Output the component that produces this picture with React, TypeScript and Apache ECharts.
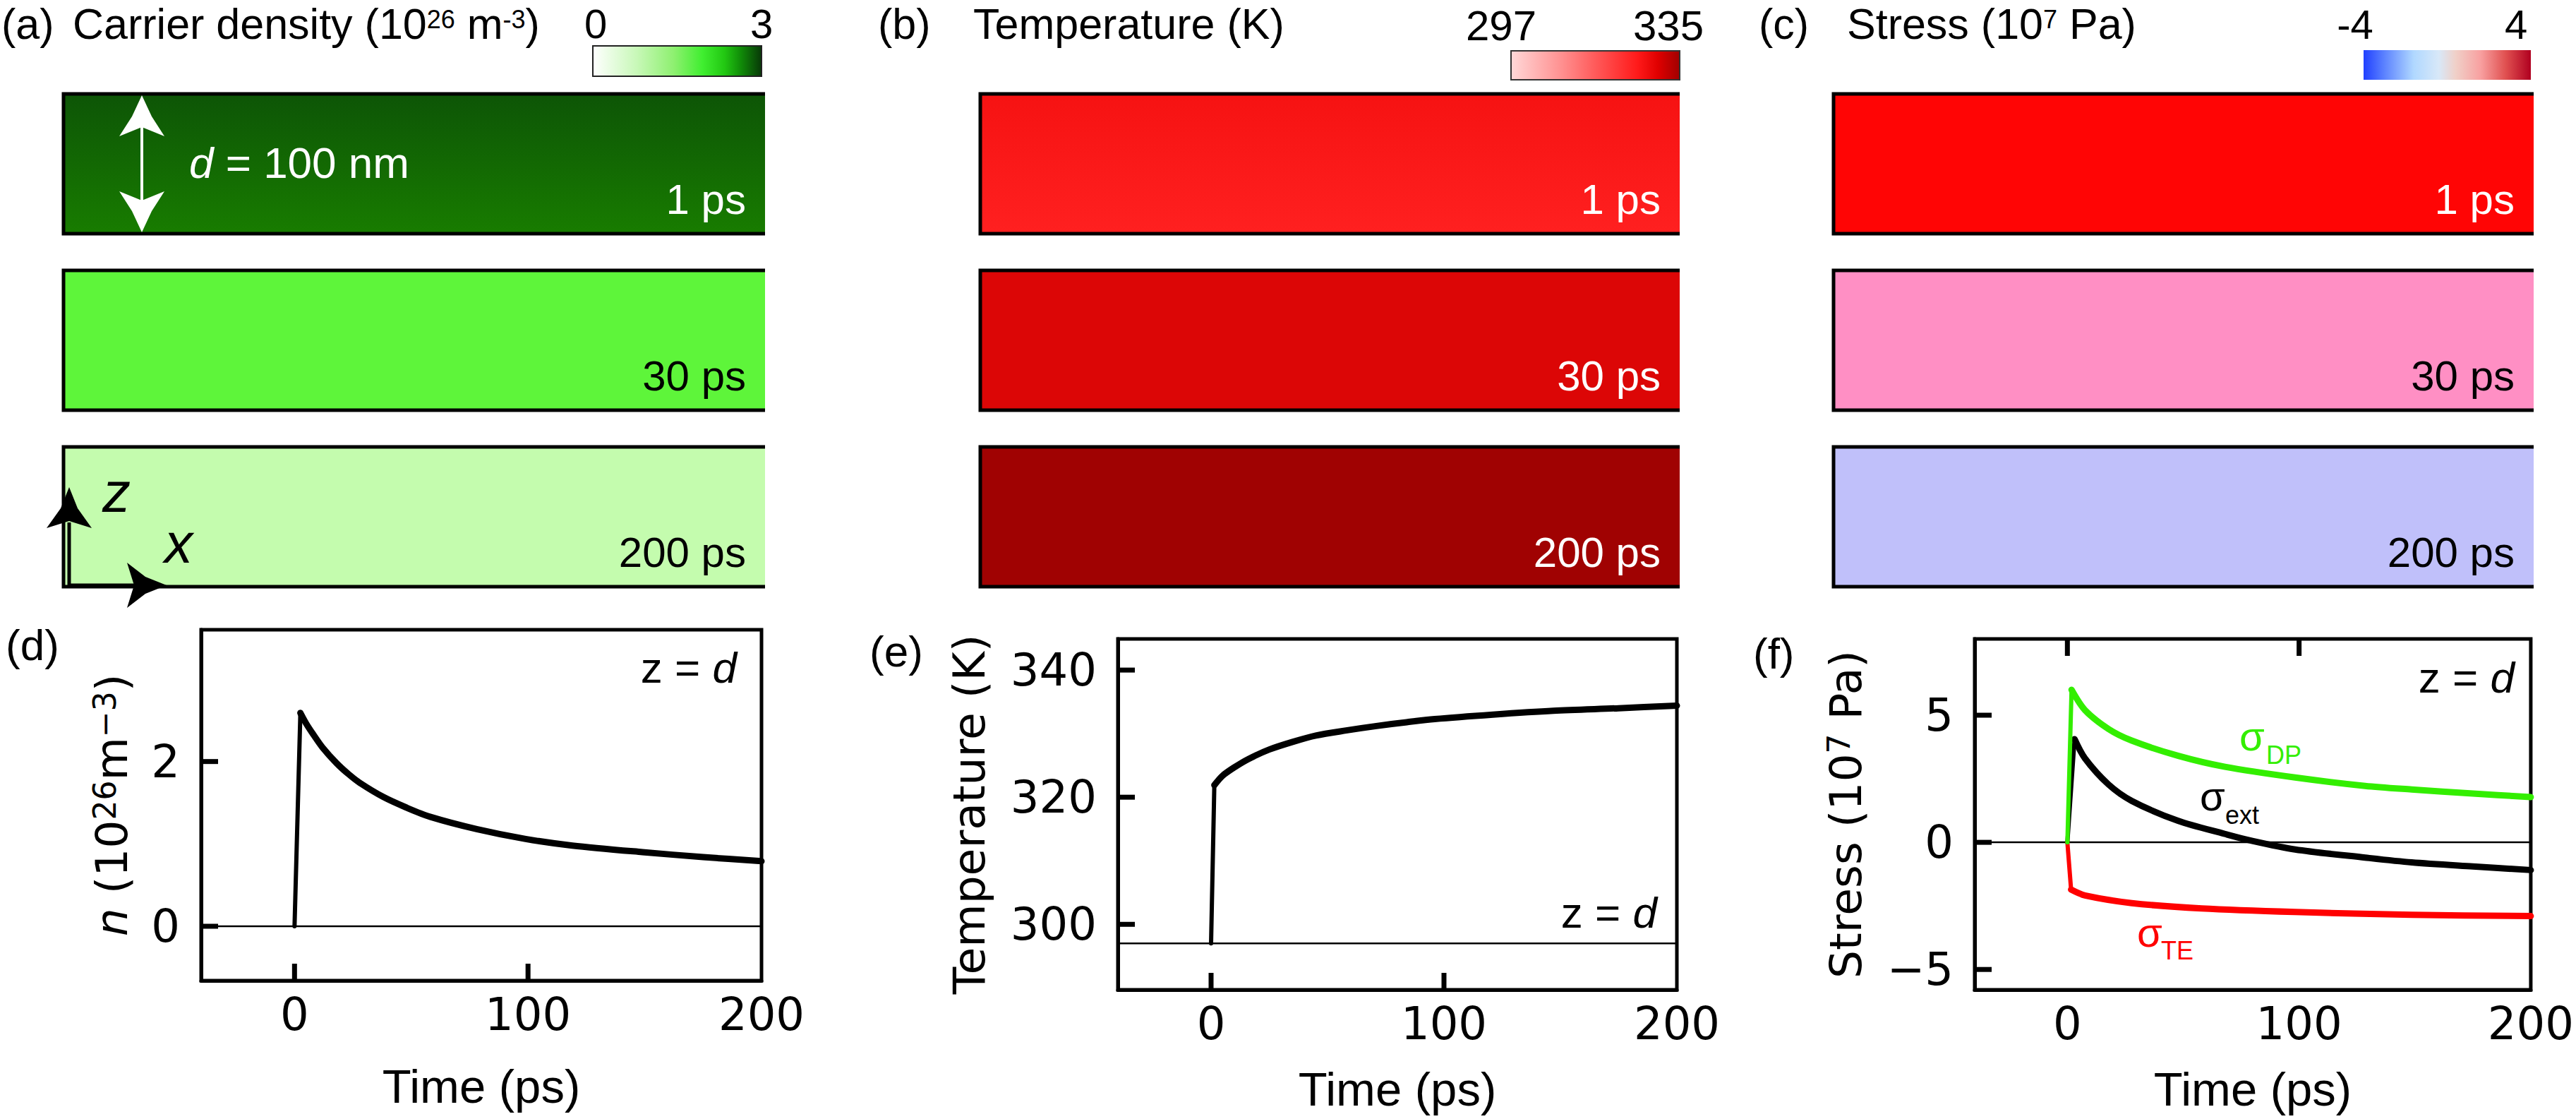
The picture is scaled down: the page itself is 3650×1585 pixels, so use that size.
import React, { useEffect, useRef } from 'react';
import * as echarts from 'echarts';

// ---------------- data ----------------
const snapshotLabels = ['1 ps', '30 ps', '200 ps'];
const slabWidth = [1, 1, 1];

const timeRange = [-40, 200];
const timeTickLabels = [0, 100, 200];
const timeTickMarks = [0, 100];

// (d) carrier density at z = d
const nRange = [-0.66, 3.6];
const nTicks = [0, 2];
const nBaseline = 0;
const nRiseTime = [0, 2.5];
const nRiseValue = [0, 2.59];
const nTime = [2.5, 5, 8, 12, 18, 23, 28, 38, 48, 58, 78, 99, 119, 149, 175, 200];
const nValue = [2.59, 2.46, 2.33, 2.17, 1.98, 1.85, 1.74, 1.57, 1.44, 1.33, 1.18, 1.06, 0.98, 0.9, 0.84, 0.79];

// (e) temperature at z = d
const tempRange = [289.7, 344.9];
const tempTicks = [300, 320, 340];
const tempBaseline = 297;
const tempRiseTime = [0, 1.4];
const tempRiseValue = [297, 321.9];
const tempTime = [1.4, 5, 10, 16, 25, 35, 45, 58, 71, 84, 96, 121, 147, 175, 200];
const tempValue = [321.9, 323.4, 324.7, 326.0, 327.5, 328.7, 329.7, 330.5, 331.2, 331.8, 332.3, 333.0, 333.6, 334.0, 334.4];

// (f) stress at z = d
const stressRange = [-5.8, 8.0];
const stressTicks = [-5, 0, 5];
const stressBaseline = 0;
const dpRiseTime = [0, 1.8];
const dpRiseValue = [0, 6.0];
const dpTime = [1.8, 7.6, 17.7, 27.8, 47.9, 68, 98.3, 128.5, 148.6, 175, 200];
const dpValue = [6.0, 5.2, 4.46, 4.0, 3.4, 2.97, 2.55, 2.22, 2.08, 1.92, 1.78];
const extRiseTime = [0, 3.1];
const extRiseValue = [0, 4.06];
const extTime = [3.1, 7.6, 17.7, 27.8, 47.9, 68, 78.2, 98.3, 128.5, 148.6, 175, 200];
const extValue = [4.06, 3.3, 2.28, 1.63, 0.84, 0.33, 0.09, -0.28, -0.6, -0.79, -0.95, -1.09];
const teRiseTime = [0, 1.6];
const teRiseValue = [0, -1.86];
const teTime = [1.6, 7.6, 27.8, 58, 98.3, 148.6, 200];
const teValue = [-1.86, -2.09, -2.39, -2.6, -2.74, -2.85, -2.9];

// colour-bar end labels
const densityScale = ['0', '3'];
const temperatureScale = ['297', '335'];
const stressScale = ['-4', '4'];

// ---------------- styles ----------------
const FS = "'Liberation Sans', Arial, sans-serif";
const DJ = "'DejaVu Sans', sans-serif";
const GREEN = '#33ee00';
const RED = '#ff0000';
const TICK_LEN = 24;
const TICK_W = 7;

const vgrad = (a: string, b: string) =>
  new echarts.graphic.LinearGradient(0, 0, 0, 1, [
    { offset: 0, color: a },
    { offset: 1, color: b },
  ]);
const hgrad = (stops: [number, string][]) => ({
  type: 'linear', x: 0, y: 0, x2: 1, y2: 0,
  colorStops: stops.map(([offset, color]) => ({ offset, color })),
});

const slabColors: any[][] = [
  [vgrad('#0d5506', '#187c00'), '#5ef53a', '#c4fcae'],
  [vgrad('#f61212', '#ff2020'), '#dc0606', '#a00202'],
  ['#ff0505', '#ff8fc4', '#c0c0fa'],
];
const slabLabelColors = [
  ['#ffffff', '#000000', '#000000'],
  ['#ffffff', '#ffffff', '#ffffff'],
  ['#ffffff', '#000000', '#000000'],
];

const topGrids = [
  { left: 90, top: 107, width: 994, height: 750 },
  { left: 1389, top: 107, width: 991, height: 750 },
  { left: 2598, top: 107, width: 992, height: 750 },
];
const botGrids = [
  { left: 285, top: 892, width: 794, height: 497 },
  { left: 1584, top: 905, width: 792, height: 497 },
  { left: 2798, top: 905, width: 792, height: 497 },
];

const pts = (xs: number[], ys: number[]) => xs.map((x, i) => [x, ys[i]]);
const fmtNum = (v: number) => (v < 0 ? '\u2212' + String(-v) : String(v));

function txt(x: number, y: number, text: string, o: any = {}) {
  return {
    type: 'text', x, y, z: 100, silent: true,
    style: {
      text,
      fill: o.fill || '#000',
      fontSize: o.fontSize || 60,
      fontFamily: o.fontFamily || FS,
      fontStyle: o.fontStyle || 'normal',
      align: o.align || 'left',
      verticalAlign: 'middle',
      lineHeight: o.lineHeight || 56,
      rich: o.rich,
    },
  };
}

function richMain(fontSize: number, family: string, color: string, lh: number) {
  return { fontSize, fontFamily: family, fill: color, color, lineHeight: lh };
}

function App() {
  const ref = useRef<HTMLDivElement>(null);
  useEffect(() => {
    const chart = echarts.init(ref.current!, null, { renderer: 'svg' });

    const titleRich = {
      m: richMain(61, FS, '#000', 50),
      s: { fontSize: 36, fontFamily: FS, fill: '#000', color: '#000', lineHeight: 32, verticalAlign: 'top' },
    };

    const xAxes: any[] = [];
    const yAxes: any[] = [];
    topGrids.forEach((g, i) => {
      xAxes.push({ type: 'value', gridIndex: i, min: 0, max: 1, show: false });
      yAxes.push({ type: 'category', gridIndex: i, data: snapshotLabels, inverse: true, show: false });
    });

    const frameLine = { show: true, onZero: false, lineStyle: { color: '#000', width: 5 } };
    botGrids.forEach((g, k) => {
      const gi = 3 + k;
      xAxes.push({
        type: 'value', gridIndex: gi, position: 'bottom', min: timeRange[0], max: timeRange[1],
        axisLine: frameLine, splitLine: { show: false },
        axisTick: { show: false },
        axisLabel: { show: true, customValues: timeTickLabels, margin: 16, fontSize: 64, fontFamily: DJ, color: '#000' },
        name: 'Time (ps)', nameLocation: 'middle', nameGap: k === 0 ? 119 : 110,
        nameTextStyle: { fontSize: 67, fontFamily: FS, color: '#000', lineHeight: 60 },
      });
    });

    const yNameRich = {
      m: richMain(63, DJ, '#000', 64),
      i: { fontSize: 63, fontFamily: DJ, fontStyle: 'italic', color: '#000', lineHeight: 64 },
      s: { fontSize: 44, fontFamily: DJ, color: '#000', lineHeight: 44, verticalAlign: 'top' },
    };
    const yDefs = [
      { range: nRange, ticks: nTicks, name: '{i|n}{m| (10}{s|26}{m|m}{s|\u22123}{m|)}', gap: 95 },
      { range: tempRange, ticks: tempTicks, name: '{m|Temperature (K)}', gap: 179 },
      { range: stressRange, ticks: stressTicks, name: '{m|Stress (10}{s|7}{m| Pa)}', gap: 151 },
    ];
    yDefs.forEach((d, k) => {
      yAxes.push({
        type: 'value', gridIndex: 3 + k, position: 'left', min: d.range[0], max: d.range[1],
        axisLine: frameLine, splitLine: { show: false },
        axisTick: { show: false },
        axisLabel: { show: true, customValues: d.ticks, margin: 30, fontSize: 64, fontFamily: DJ, color: '#000', formatter: fmtNum },
        name: d.name, nameLocation: 'middle', nameRotate: 90, nameGap: d.gap,
        nameTextStyle: { fontSize: 63, fontFamily: DJ, color: '#000', rich: yNameRich },
      });
    });

    const series: any[] = [];
    topGrids.forEach((g, i) => {
      series.push({
        type: 'custom', xAxisIndex: i, yAxisIndex: i, silent: true,
        data: slabWidth.map((v, k) => [v, k]),
        encode: { x: 0, y: 1 },
        renderItem: (params: any, api: any) => {
          const k = params.dataIndex;
          const p0 = api.coord([0, k]);
          const p1 = api.coord([api.value(0), k]);
          const h = api.size([0, 1])[1] * 0.792;
          const top = p0[1] - h / 2;
          const bottom = p0[1] + h / 2;
          return {
            type: 'group',
            children: [
              { type: 'rect', shape: { x: p0[0], y: top, width: p1[0] - p0[0], height: h }, style: { fill: slabColors[i][k] } },
              {
                type: 'polyline',
                shape: { points: [[p1[0], top], [p0[0], top], [p0[0], bottom], [p1[0], bottom]] },
                style: { stroke: '#000', lineWidth: 5, fill: null },
              },
              {
                type: 'text', x: p1[0] - 27, y: bottom - 19,
                style: {
                  text: snapshotLabels[k], fill: slabLabelColors[i][k], fontSize: 60, fontFamily: FS,
                  align: 'right', verticalAlign: 'bottom',
                },
              },
            ],
          };
        },
      });
    });

    const line = (xi: number, yi: number, data: number[][], color: string, width: number, smooth = false) => ({
      type: 'line', xAxisIndex: xi, yAxisIndex: yi, data, symbol: 'none', silent: true,
      smooth: smooth ? 0.3 : false,
      lineStyle: { color, width, cap: 'round', join: 'round' },
    });

    // (d)
    series.push(line(3, 3, [[timeRange[0], nBaseline], [timeRange[1], nBaseline]], '#000', 2.5));
    series.push(line(3, 3, pts(nRiseTime, nRiseValue), '#000', 6));
    series.push(line(3, 3, pts(nTime, nValue), '#000', 9, true));
    // (e)
    series.push(line(4, 4, [[timeRange[0], tempBaseline], [timeRange[1], tempBaseline]], '#000', 2.5));
    series.push(line(4, 4, pts(tempRiseTime, tempRiseValue), '#000', 6));
    series.push(line(4, 4, pts(tempTime, tempValue), '#000', 9, true));
    // (f)
    series.push(line(5, 5, [[timeRange[0], stressBaseline], [timeRange[1], stressBaseline]], '#000', 2.5));
    series.push(line(5, 5, pts(extRiseTime, extRiseValue), '#000', 6));
    series.push(line(5, 5, pts(extTime, extValue), '#000', 9, true));
    series.push(line(5, 5, pts(teRiseTime, teRiseValue), RED, 6));
    series.push(line(5, 5, pts(teTime, teValue), RED, 9, true));
    series.push(line(5, 5, pts(dpRiseTime, dpRiseValue), GREEN, 6));
    series.push(line(5, 5, pts(dpTime, dpValue), GREEN, 9, true));

    const white = '#ffffff';
    const graphic: any[] = [
      // titles
      txt(2, 34, '(a)', { fontSize: 61, lineHeight: 50 }),
      txt(103, 34, '{m|Carrier density (10}{s|26}{m| m}{s|-3}{m|)}', { rich: titleRich, lineHeight: 50 }),
      txt(1244, 34, '(b)', { fontSize: 61, lineHeight: 50 }),
      txt(1379, 34, 'Temperature (K)', { fontSize: 61, lineHeight: 50 }),
      txt(2492, 34, '(c)', { fontSize: 61, lineHeight: 50 }),
      txt(2617, 34, '{m|Stress (10}{s|7}{m| Pa)}', { rich: titleRich, lineHeight: 50 }),
      // colour bars
      {
        type: 'rect', z: 100, silent: true, shape: { x: 840, y: 65, width: 239, height: 43 },
        style: {
          fill: hgrad([[0, '#ffffff'], [0.26, '#c8f8b8'], [0.48, '#8ef070'], [0.65, '#40ee30'], [0.78, '#22c812'], [0.88, '#108a08'], [1, '#083808']]),
          stroke: '#222', lineWidth: 2,
        },
      },
      txt(844, 33, densityScale[0], { align: 'center', fontSize: 58, lineHeight: 44 }),
      txt(1079, 33, densityScale[1], { align: 'center', fontSize: 58, lineHeight: 44 }),
      {
        type: 'rect', z: 100, silent: true, shape: { x: 2141, y: 72, width: 239, height: 41 },
        style: {
          fill: hgrad([[0, '#ffd8d8'], [0.3, '#ff9090'], [0.5, '#ff5a5a'], [0.75, '#ff1a1a'], [0.87, '#e00000'], [1, '#a00000']]),
          stroke: '#333', lineWidth: 2,
        },
      },
      txt(2127, 36, temperatureScale[0], { align: 'center', fontSize: 60, lineHeight: 44 }),
      txt(2364, 36, temperatureScale[1], { align: 'center', fontSize: 60, lineHeight: 44 }),
      {
        type: 'rect', z: 100, silent: true, shape: { x: 3349, y: 71, width: 237, height: 42 },
        style: {
          fill: hgrad([[0, '#2040ff'], [0.12, '#5a80ff'], [0.3, '#b0d8ff'], [0.45, '#d8e8f8'], [0.55, '#f0d0c8'], [0.7, '#f8a0a0'], [0.85, '#e05050'], [1, '#b00020']]),
        },
      },
      txt(3337, 34, stressScale[0], { align: 'center', fontSize: 58, lineHeight: 44 }),
      txt(3565, 34, stressScale[1], { align: 'center', fontSize: 58, lineHeight: 44 }),
      // double arrow d = 100 nm
      { type: 'line', z: 100, silent: true, shape: { x1: 201, y1: 175, x2: 201, y2: 290 }, style: { stroke: white, lineWidth: 4 } },
      { type: 'polygon', z: 100, silent: true, shape: { points: [[201, 135], [215, 165], [233, 193], [201, 180], [169, 193], [187, 165]] }, style: { fill: white } },
      { type: 'polygon', z: 100, silent: true, shape: { points: [[201, 329], [215, 299], [233, 271], [201, 284], [169, 271], [187, 299]] }, style: { fill: white } },
      txt(268, 230, '{i|d}{m| = 100 nm}', {
        fill: white,
        rich: {
          i: { fontSize: 62, fontFamily: FS, fontStyle: 'italic', fill: white, color: white, lineHeight: 64 },
          m: richMain(62, FS, white, 64),
        },
      }),
      // axis arrows z / x
      { type: 'polyline', z: 100, silent: true, shape: { points: [[98, 740], [98, 829], [190, 829]] }, style: { stroke: '#000', lineWidth: 5, fill: null } },
      { type: 'polygon', z: 100, silent: true, shape: { points: [[98, 690], [110, 720], [130, 748], [98, 738], [66, 748], [86, 720]] }, style: { fill: '#000' } },
      { type: 'polygon', z: 100, silent: true, shape: { points: [[236, 829], [206, 841], [180, 861], [190, 829], [180, 797], [206, 817]] }, style: { fill: '#000' } },
      txt(145, 697, 'z', { fontSize: 80, fontStyle: 'italic', lineHeight: 80 }),
      txt(233, 769, 'x', { fontSize: 80, fontStyle: 'italic', lineHeight: 80 }),
      // bottom panel letters
      txt(8, 913, '(d)', { fontSize: 62 }),
      txt(1232, 922, '(e)', { fontSize: 62 }),
      txt(2484, 925, '(f)', { fontSize: 62 }),
    ];
    const zdRich = {
      m: richMain(62, FS, '#000', 64),
      i: { fontSize: 62, fontFamily: FS, fontStyle: 'italic', fill: '#000', color: '#000', lineHeight: 64 },
    };
    graphic.push(txt(1044, 945, '{m|z = }{i|d}', { align: 'right', rich: zdRich }));
    graphic.push(txt(2348, 1292, '{m|z = }{i|d}', { align: 'right', rich: zdRich }));
    graphic.push(txt(3563, 959, '{m|z = }{i|d}', { align: 'right', rich: zdRich }));
    // sigma labels
    graphic.push(txt(3173, 1042, '\u03c3', { fontSize: 58, fill: GREEN }));
    graphic.push(txt(3211, 1069, 'DP', { fontSize: 36, fill: GREEN, lineHeight: 40 }));
    graphic.push(txt(3117, 1127, '\u03c3', { fontSize: 58 }));
    graphic.push(txt(3153, 1154, 'ext', { fontSize: 36, lineHeight: 40 }));
    graphic.push(txt(3028, 1320, '\u03c3', { fontSize: 58, fill: RED }));
    graphic.push(txt(3062, 1346, 'TE', { fontSize: 36, fill: RED, lineHeight: 40 }));

    chart.setOption({
      animation: false,
      backgroundColor: '#ffffff',
      grid: [
        ...topGrids.map((g) => ({ ...g, show: false })),
        ...botGrids.map((g) => ({ ...g, show: true, borderColor: '#000', borderWidth: 5, backgroundColor: 'rgba(0,0,0,0)' })),
      ],
      xAxis: xAxes,
      yAxis: yAxes,
      series,
      graphic,
    });

    // inward tick marks, placed through the axes' own scales
    const tickDefs: { gi: number; kind: 'left' | 'bottom' | 'top'; values: number[]; fixed: number; yr: number[] }[] = [
      { gi: 3, kind: 'left', values: nTicks, fixed: timeRange[0], yr: nRange },
      { gi: 3, kind: 'bottom', values: timeTickMarks, fixed: nRange[0], yr: nRange },
      { gi: 4, kind: 'left', values: tempTicks, fixed: timeRange[0], yr: tempRange },
      { gi: 4, kind: 'bottom', values: timeTickMarks, fixed: tempRange[0], yr: tempRange },
      { gi: 5, kind: 'left', values: stressTicks, fixed: timeRange[0], yr: stressRange },
      { gi: 5, kind: 'top', values: timeTickMarks, fixed: stressRange[1], yr: stressRange },
    ];
    const toPixel = (gi: number, yr: number[], v: number[]) => {
      let p: any = null;
      try {
        p = chart.convertToPixel({ gridIndex: gi } as any, v);
      } catch (e) {
        p = null;
      }
      if (!p || !isFinite(p[0]) || !isFinite(p[1])) {
        const g = botGrids[gi - 3];
        p = [
          g.left + ((v[0] - timeRange[0]) / (timeRange[1] - timeRange[0])) * g.width,
          g.top + ((yr[1] - v[1]) / (yr[1] - yr[0])) * g.height,
        ];
      }
      return p as number[];
    };
    const tickGraphics: any[] = [];
    tickDefs.forEach((d) => {
      d.values.forEach((v) => {
        const p = toPixel(d.gi, d.yr, d.kind === 'left' ? [d.fixed, v] : [v, d.fixed]);
        let shape;
        if (d.kind === 'left') shape = { x: p[0], y: p[1] - TICK_W / 2, width: TICK_LEN, height: TICK_W };
        else if (d.kind === 'bottom') shape = { x: p[0] - TICK_W / 2, y: p[1] - TICK_LEN, width: TICK_W, height: TICK_LEN };
        else shape = { x: p[0] - TICK_W / 2, y: p[1], width: TICK_W, height: TICK_LEN };
        tickGraphics.push({ type: 'rect', z: 120, silent: true, shape, style: { fill: '#000' } });
      });
    });
    chart.setOption({ graphic: [...graphic, ...tickGraphics] });

    return () => chart.dispose();
  }, []);
  return (
    <div
      ref={ref}
      style={{ position: 'fixed', left: 0, top: 0, width: 3650, height: 1585, background: '#fff' }}
    />
  );
}

export default App;
